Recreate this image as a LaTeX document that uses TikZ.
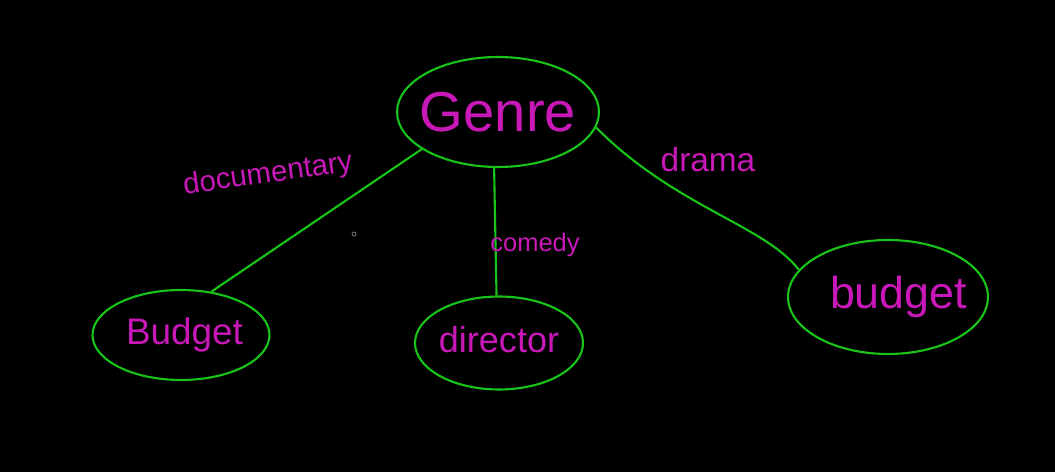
\documentclass[tikz,border=0pt]{standalone}
\usepackage{fontspec}
\setmainfont{Liberation Sans}
\usetikzlibrary{shapes.geometric}
\definecolor{penGreen}{RGB}{24,196,24}
\definecolor{penPink}{RGB}{200,24,184}
\tikzset{
  blob/.style={ellipse, draw=penGreen, line width=1.2pt, inner sep=0pt},
  word/.style={text=penPink, inner sep=0pt},
  edge/.style={draw=penGreen, line width=1.2pt}
}
\begin{document}
\begin{tikzpicture}[x=0.02cm, y=-0.02cm]
\fill[black] (0,0) rectangle (1055,472);
\useasboundingbox (0,0) rectangle (1055,472);
%nodes
\node[blob, minimum width=4.04cm, minimum height=2.2cm,
      label={[word, font=\fontsize{32}{36}\selectfont]center:Genre}] (genre) at (498,112) {};
\node[blob, minimum width=3.54cm, minimum height=1.8cm,
      label={[word, font=\fontsize{21}{24}\selectfont, xshift=2pt]center:Budget}] (budgetL) at (181,335) {};
\node[blob, minimum width=3.36cm, minimum height=1.86cm,
      label={[word, font=\fontsize{20.5}{24}\selectfont, yshift=2pt]center:director}] (director) at (499,343) {};
\node[blob, minimum width=4.0cm, minimum height=2.28cm,
      label={[word, font=\fontsize{25.5}{28}\selectfont, xshift=6pt]center:budget}] (budgetR) at (888,297) {};
%edges
\draw[edge] (genre.206) -- (budgetL.55);
\draw[edge] (genre.266) -- (director.93);
\draw[edge] (genre.-9) .. controls +(80,80) and +(-35,-45) .. (budgetR.163); %drama branch
%edge labels
\node[word, font=\fontsize{16.8}{20}\selectfont, rotate=8] (lblDoc) at (268,175) {documentary};
\node[word, font=\fontsize{14.5}{17}\selectfont] (lblCom) at (535,245) {comedy};
\node[word, font=\fontsize{19}{22}\selectfont] (lblDra) at (708,160) {drama};
%stray cursor dot
\draw[gray, line width=0.4pt] (354,234) circle (2);
\end{tikzpicture}
\end{document}
